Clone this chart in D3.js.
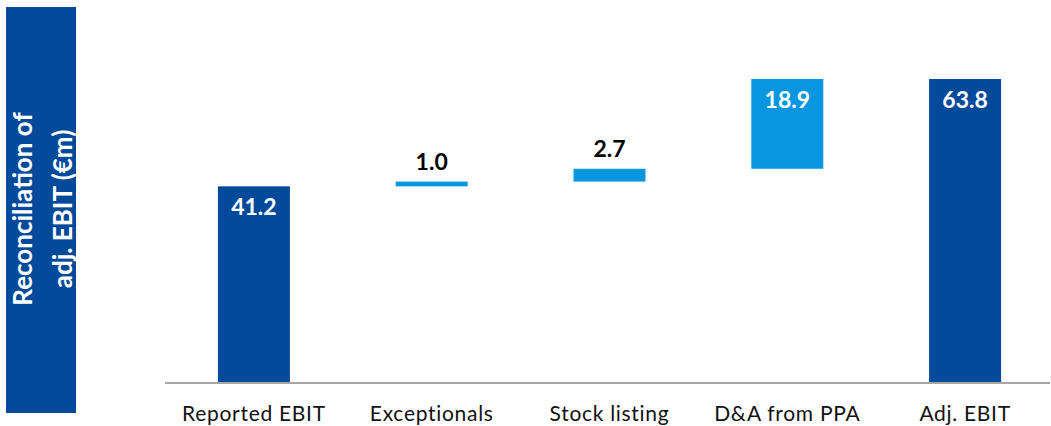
<!DOCTYPE html>
<html>
<head>
<meta charset="utf-8">
<script src="https://cdn.jsdelivr.net/npm/d3@7"></script>
<style>
  html, body { margin: 0; padding: 0; background: #ffffff; }
  svg { display: block; }
  text { font-family: Lato, "Open Sans", sans-serif; }
</style>
</head>
<body>
<svg id="chart" width="1051" height="426"></svg>
<script>
// Bridge from reported EBIT to adjusted EBIT (€m)
const categories = ["Reported EBIT", "Exceptionals", "Stock listing", "D&A from PPA", "Adj. EBIT"];
const values = [41.2, 1.0, 2.7, 18.9, 63.8];
const kinds = ["total", "step", "step", "step", "total"];
const titleLines = ["Reconciliation of", "adj. EBIT (€m)"];

const DARK = "#044A9B";
const LIGHT = "#0896E0";

const svg = d3.select("#chart");

// Running base for each floating step
let running = 0;
const bars = categories.map((c, i) => {
  let y0, y1;
  if (kinds[i] === "total") { y0 = 0; y1 = values[i]; running = values[i]; }
  else { y0 = running; y1 = running + values[i]; running = y1; }
  return { cat: c, value: values[i], kind: kinds[i], y0, y1 };
});

const x = d3.scaleBand().domain(categories).range([165, 1054]).paddingInner(0.595).paddingOuter(0.2975);
const y = d3.scaleLinear().domain([0, 70]).range([382, 382 - 70 * 4.749]);

// Side title panel
svg.append("rect").attr("x", 6).attr("y", 7).attr("width", 70).attr("height", 406).attr("fill", DARK);
const title = svg.append("g").attr("transform", "translate(0,209) rotate(-90)");
title.selectAll("text").data(titleLines).join("text")
  .attr("x", 0).attr("y", (d, i) => i === 0 ? 32 : 72)
  .attr("text-anchor", "middle")
  .attr("fill", "#ffffff")
  .attr("font-weight", 700)
  .attr("font-size", 26)
  .text(d => d);

// Bars
svg.append("g").selectAll("rect").data(bars).join("rect")
  .attr("x", d => x(d.cat))
  .attr("width", x.bandwidth())
  .attr("y", d => y(d.y1))
  .attr("height", d => y(d.y0) - y(d.y1))
  .attr("fill", d => d.kind === "total" ? DARK : LIGHT);

// Baseline axis with category labels
const axis = svg.append("g").attr("transform", "translate(0,382)")
  .call(d3.axisBottom(x).tickSize(0).tickPadding(0));
axis.select(".domain").attr("d", "M165,1H1050").attr("stroke", "#A6A6A6").attr("stroke-width", 2);
axis.selectAll(".tick text")
  .attr("y", 39)
  .attr("dy", 0)
  .attr("font-size", 21)
  .attr("letter-spacing", 0.7)
  .attr("font-family", "Lato, 'Open Sans', sans-serif")
  .attr("fill", "#111111");

// Value labels: inside tall bars, above thin ones
svg.append("g").selectAll("text").data(bars).join("text")
  .attr("x", d => x(d.cat) + x.bandwidth() / 2)
  .attr("y", d => {
    const inside = y(d.y0) - y(d.y1) > 40;
    return inside ? y(d.y1) + 29 : y(d.y1) - 12;
  })
  .attr("text-anchor", "middle")
  .attr("font-weight", 700)
  .attr("font-size", 23)
  .attr("fill", d => (y(d.y0) - y(d.y1) > 40) ? "#ffffff" : "#000000")
  .text(d => d.value.toFixed(1));
</script>
</body>
</html>
